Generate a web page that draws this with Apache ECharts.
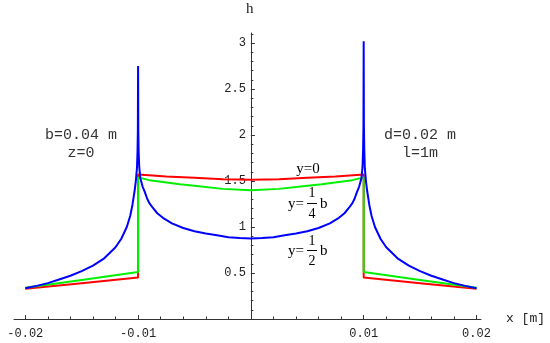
<!DOCTYPE html>
<html>
<head>
<meta charset="utf-8">
<script src="https://cdn.jsdelivr.net/npm/echarts@6/dist/echarts.min.js"></script>
<style>
html,body{margin:0;padding:0;background:#fff;}
#chart{width:550px;height:343px;}
</style>
</head>
<body>
<div id="chart"></div>
<script>
// ---- data ----
var xTicks = [-0.02, -0.01, 0.01, 0.02];
var yTicks = [0.5, 1, 1.5, 2, 2.5, 3];
var xMinorTicks = [-0.018,-0.016,-0.014,-0.012,-0.008,-0.006,-0.004,-0.002,0.002,0.004,0.006,0.008,0.012,0.014,0.016,0.018];
var yMinorTicks = [0.1,0.2,0.3,0.4,0.6,0.7,0.8,0.9,1.1,1.2,1.3,1.4,1.6,1.7,1.8,1.9,2.1,2.2,2.3,2.4,2.6,2.7,2.8,2.9,3.1];

// y = 0 (red)
var redX = [-0.02, -0.015, -0.01, -0.01, -0.0075, -0.005, -0.0025, 0, 0.0025, 0.005, 0.0075, 0.01, 0.01, 0.015, 0.02];
var redH = [0.33, 0.39, 0.45, 1.57, 1.55, 1.535, 1.52, 1.515, 1.52, 1.535, 1.55, 1.57, 0.45, 0.39, 0.33];

// y = b/4 (green)
var greenX = [-0.02, -0.015, -0.01, -0.01, -0.009, -0.0078, -0.0063, -0.0048, -0.0025, 0, 0.0025, 0.0048, 0.0063, 0.0078, 0.009, 0.01, 0.01, 0.015, 0.02];
var greenH = [0.34, 0.425, 0.51, 1.54, 1.51, 1.49, 1.465, 1.445, 1.415, 1.40, 1.415, 1.445, 1.465, 1.49, 1.51, 1.54, 0.51, 0.425, 0.34];

// y = b/2 (blue)
var blueX = [
  -0.02, -0.019, -0.018, -0.017, -0.016, -0.015, -0.014, -0.013, -0.012, -0.0115, -0.011, -0.0107, -0.0105, -0.0103, -0.0102, -0.0101, -0.01005, -0.01002, -0.01,
  -0.00998, -0.00995, -0.0099, -0.0098, -0.0096, -0.0094, -0.0092, -0.009, -0.0087, -0.0083, -0.0078, -0.007, -0.006, -0.005, -0.004, -0.003, -0.002, -0.001, 0,
  0.001, 0.002, 0.003, 0.004, 0.005, 0.006, 0.007, 0.0078, 0.0083, 0.0087, 0.009, 0.0092, 0.0094, 0.0096, 0.0098, 0.0099, 0.00995, 0.00998, 0.01,
  0.01002, 0.01005, 0.0101, 0.0102, 0.0103, 0.0105, 0.0107, 0.011, 0.0115, 0.012, 0.013, 0.014, 0.015, 0.016, 0.017, 0.018, 0.019, 0.02];
var blueH = [
  0.335, 0.36, 0.39, 0.43, 0.47, 0.52, 0.58, 0.66, 0.78, 0.87, 1.0, 1.12, 1.24, 1.40, 1.50, 1.64, 1.82, 2.05, 2.75,
  2.05, 1.82, 1.66, 1.53, 1.44, 1.38, 1.31, 1.26, 1.21, 1.15, 1.10, 1.04, 0.99, 0.955, 0.93, 0.91, 0.89, 0.88, 0.875,
  0.88, 0.89, 0.91, 0.93, 0.955, 0.99, 1.04, 1.10, 1.15, 1.21, 1.26, 1.31, 1.38, 1.44, 1.53, 1.66, 1.85, 2.10, 3.02,
  2.10, 1.85, 1.64, 1.50, 1.40, 1.24, 1.12, 1.0, 0.87, 0.78, 0.66, 0.58, 0.52, 0.47, 0.43, 0.39, 0.36, 0.335];

function pairs(xs, ys){ return xs.map(function(x,i){ return [x, ys[i]]; }); }

var chart = echarts.init(document.getElementById('chart'), null, {renderer:'canvas'});
var axisColor = '#333';
var mono = "'Liberation Mono', 'DejaVu Sans Mono', monospace";
var serif = "'Liberation Serif', 'DejaVu Serif', serif";

var gridLeft = 14, gridRight = 69, xMin = -0.021, xMax = 0.0204;
var plotW = 550 - gridLeft - gridRight;
var zeroOffset = -(plotW * (0 - xMin) / (xMax - xMin));

function centered(t, x, y, font, fill, align) {
  align = align || 'center';
  return {type: 'text', x: x, y: y, style: {text: t, font: font, fill: fill || '#222', align: align, verticalAlign: 'middle', textAlign: align, textVerticalAlign: 'middle'}};
}

var option = {
  backgroundColor: '#fff',
  animation: false,
  grid: {left: gridLeft, right: gridRight, top: 33, bottom: 24, containLabel: false},
  xAxis: [{
    type: 'value', min: xMin, max: xMax,
    axisLine: {show: true, onZero: false, lineStyle: {color: axisColor, width: 1}},
    axisTick: {show: true, inside: true, length: 4, customValues: xTicks.concat([0]), lineStyle: {color: axisColor}},
    axisLabel: {show: true, customValues: xTicks, margin: 9, color: '#222', fontFamily: mono, fontSize: 12,
      formatter: function(v){ return v.toFixed(2); }},
    splitLine: {show: false}
  }, {
    type: 'value', min: xMin, max: xMax, position: 'bottom',
    axisLine: {show: false, onZero: false},
    axisTick: {show: true, inside: true, length: 2.5, customValues: xMinorTicks, lineStyle: {color: axisColor}},
    axisLabel: {show: false},
    splitLine: {show: false}
  }],
  yAxis: [{
    type: 'value', min: 0, max: 3.11, position: 'left', offset: zeroOffset,
    axisLine: {show: true, onZero: false, lineStyle: {color: axisColor, width: 1}},
    axisTick: {show: true, inside: true, length: 4, customValues: yTicks, lineStyle: {color: axisColor}},
    axisLabel: {show: true, customValues: yTicks, margin: 5, color: '#222', fontFamily: mono, fontSize: 12,
      formatter: function(v){ return String(v); }},
    splitLine: {show: false}
  }, {
    type: 'value', min: 0, max: 3.11, position: 'left', offset: zeroOffset,
    axisLine: {show: false, onZero: false},
    axisTick: {show: true, inside: true, length: 2.5, customValues: yMinorTicks, lineStyle: {color: axisColor}},
    axisLabel: {show: false},
    splitLine: {show: false}
  }],
  series: [
    {type: 'line', name: 'y=0', data: pairs(redX, redH), showSymbol: false, symbol: 'none',
      lineStyle: {color: '#ff0000', width: 2}, z: 3},
    {type: 'line', name: 'y=b/4', data: pairs(greenX, greenH), showSymbol: false, symbol: 'none',
      lineStyle: {color: '#00f000', width: 2}, z: 4},
    {type: 'line', name: 'y=b/2', data: pairs(blueX, blueH), showSymbol: false, symbol: 'none',
      lineStyle: {color: '#0000ff', width: 2}, z: 5}
  ],
  graphic: [
    {type: 'text', left: 246, top: 2, style: {text: 'h', font: '15px ' + serif, fill: '#222'}},
    {type: 'text', left: 506, top: 312, style: {text: 'x [m]', font: '13px ' + mono, fill: '#222'}},
    centered('b=0.04 m', 81, 135, '15px ' + mono, '#333'),
    centered('z=0', 81, 153, '15px ' + mono, '#333'),
    centered('d=0.02 m', 420, 135, '15px ' + mono, '#333'),
    centered('l=1m', 420, 153, '15px ' + mono, '#333'),
    centered('y=0', 308, 169, '15px ' + serif, '#000'),
    centered('y=', 288, 204, '15px ' + serif, '#000', 'left'),
    centered('1', 312, 193, '14px ' + serif, '#000'),
    {type: 'line', shape: {x1: 307, y1: 203.5, x2: 317, y2: 203.5}, style: {stroke: '#000', lineWidth: 1}},
    centered('4', 312, 214, '14px ' + serif, '#000'),
    centered('b', 320, 204, '15px ' + serif, '#000', 'left'),
    centered('y=', 288, 251, '15px ' + serif, '#000', 'left'),
    centered('1', 312, 241, '14px ' + serif, '#000'),
    {type: 'line', shape: {x1: 307, y1: 250.5, x2: 317, y2: 250.5}, style: {stroke: '#000', lineWidth: 1}},
    centered('2', 312, 261, '14px ' + serif, '#000'),
    centered('b', 320, 251, '15px ' + serif, '#000', 'left')
  ]
};
chart.setOption(option);
</script>
</body>
</html>
